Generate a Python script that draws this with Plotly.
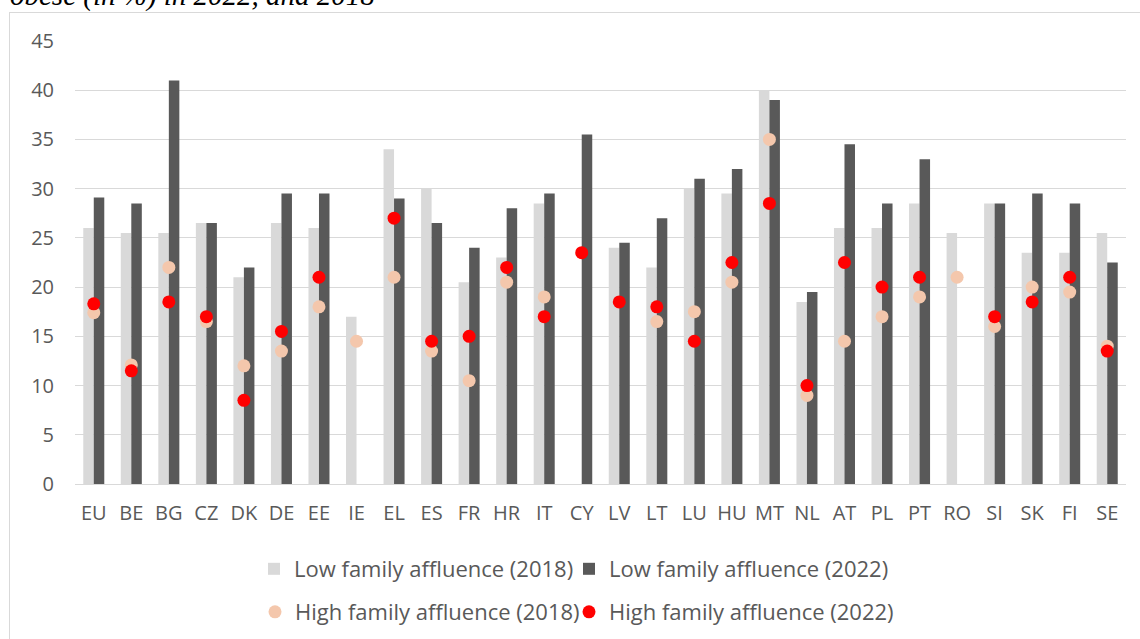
import plotly.graph_objects as go

countries = ["EU", "BE", "BG", "CZ", "DK", "DE", "EE", "IE", "EL", "ES", "FR", "HR", "IT", "CY",
             "LV", "LT", "LU", "HU", "MT", "NL", "AT", "PL", "PT", "RO", "SI", "SK", "FI", "SE"]
low_2018 = [26, 25.5, 25.5, 26.5, 21, 26.5, 26, 17, 34, 30, 20.5, 23, 28.5, None,
            24, 22, 30, 29.5, 40, 18.5, 26, 26, 28.5, 25.5, 28.5, 23.5, 23.5, 25.5]
low_2022 = [29.1, 28.5, 41, 26.5, 22, 29.5, 29.5, None, 29, 26.5, 24, 28, 29.5, 35.5,
            24.5, 27, 31, 32, 39, 19.5, 34.5, 28.5, 33, None, 28.5, 29.5, 28.5, 22.5]
high_2018 = [17.4, 12.1, 22, 16.5, 12, 13.5, 18, 14.5, 21, 13.5, 10.5, 20.5, 19, None,
             None, 16.5, 17.5, 20.5, 35, 9, 14.5, 17, 19, 21, 16, 20, 19.5, 14]
high_2022 = [18.3, 11.5, 18.5, 17, 8.5, 15.5, 21, None, 27, 14.5, 15, 22, 17, 23.5,
             18.5, 18, 14.5, 22.5, 28.5, 10, 22.5, 20, 21, None, 17, 18.5, 21, 13.5]
y_ticks = [0, 5, 10, 15, 20, 25, 30, 35, 40, 45]

W, H = 1140, 639
L, R, T, B = 75, 14, 41, 155
pw, ph = W - L - R, H - T - B

def px_x(x):
    return (x - L) / pw

def px_y(y):
    return (H - B - y) / ph

font_main = "Open Sans, Roboto, Liberation Sans, Arial, sans-serif"

fig = go.Figure()
fig.add_trace(go.Bar(x=countries, y=low_2018, name="Low family affluence (2018)",
                     marker=dict(color="#d9d9d9", line=dict(width=0)), legend="legend"))
fig.add_trace(go.Bar(x=countries, y=low_2022, name="Low family affluence (2022)",
                     marker=dict(color="#595959", line=dict(width=0)), legend="legend2"))
fig.add_trace(go.Scatter(x=countries, y=high_2018, name="High family affluence (2018)", mode="markers",
                         marker=dict(color="#f4c7ac", size=13), legend="legend3"))
fig.add_trace(go.Scatter(x=countries, y=high_2022, name="High family affluence (2022)", mode="markers",
                         marker=dict(color="#ff0000", size=13), legend="legend4"))

leg_common = dict(orientation="h", xanchor="left", yanchor="middle",
                  font=dict(size=22, color="#595959", family=font_main),
                  itemwidth=30, bgcolor="rgba(0,0,0,0)")

fig.update_layout(
    width=W, height=H,
    margin=dict(l=L, r=R, t=T, b=B, autoexpand=False),
    paper_bgcolor="white", plot_bgcolor="white",
    barmode="group", bargap=0.44, bargroupgap=0,
    font=dict(family=font_main, color="#595959", size=20),
    legend=dict(x=px_x(254), y=px_y(569), **leg_common),
    legend2=dict(x=px_x(569), y=px_y(569), **leg_common),
    legend3=dict(x=px_x(255), y=px_y(612), **leg_common),
    legend4=dict(x=px_x(569), y=px_y(612), **leg_common),
    xaxis=dict(range=[-0.5, len(countries) - 0.5], showgrid=False, showline=False, ticks="",
               tickfont=dict(size=20, color="#595959"), ticklabelstandoff=15),
    yaxis=dict(range=[0, 45], tickvals=y_ticks, showgrid=True, gridcolor="#d9d9d9", gridwidth=1,
               zeroline=True, zerolinecolor="#d9d9d9", zerolinewidth=1, showline=False, ticks="",
               tickfont=dict(size=20, color="#595959"), ticklabelstandoff=20),
    showlegend=True,
)

fig.add_annotation(text="<i>obese (in %) in 2022, and 2018</i>", xref="paper", yref="paper",
                   x=px_x(8), y=px_y(-4), xanchor="left", yanchor="middle", showarrow=False,
                   font=dict(family="Liberation Serif, Times New Roman, serif", size=29, color="#000000"))

fig.add_shape(type="line", xref="paper", yref="paper", x0=px_x(9.5), x1=px_x(9.5),
              y0=px_y(12), y1=px_y(660), line=dict(color="#d9d9d9", width=1))
fig.add_shape(type="line", xref="paper", yref="paper", x0=px_x(9.5), x1=px_x(1160),
              y0=px_y(12.5), y1=px_y(12.5), line=dict(color="#d9d9d9", width=1))

fig.write_html("out.html", config={"displayModeBar": False},
               post_script="document.body.style.margin='0';document.body.style.overflow='hidden';")
